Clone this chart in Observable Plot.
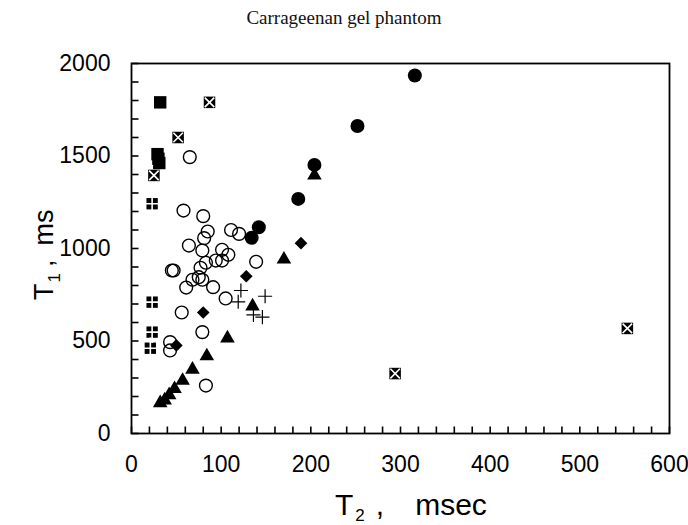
<!DOCTYPE html>
<html><head><meta charset="utf-8">
<script src="https://cdn.jsdelivr.net/npm/d3@7"></script>
<script src="https://cdn.jsdelivr.net/npm/@observablehq/plot@0.6"></script>
<style>
body{margin:0;background:#fff;}
#title{width:688px;height:36px;line-height:36px;text-align:center;font-family:"Liberation Serif","DejaVu Serif",serif;font-size:19px;color:#111;}
</style></head><body>
<div id="title">Carrageenan gel phantom</div>
<div id="chart"></div>
<script>
// [T2 (msec), T1 (ms)] pairs
const openCircles = [[65,1494],[58,1205],[80,1175],[85,1092],[81,1056],[111,1100],[120,1079],[64,1016],[79,989],[101,993],[108,966],[139,928],[45,881],[47,881],[77,896],[83,923],[94,935],[101,935],[75,845],[68,831],[79,831],[61,789],[91,791],[105,730],[56,654],[79,548],[43,494],[43,449],[83,259]];
const filledCircles = [[316,1935],[252,1662],[204,1452],[186,1268],[142,1115],[134,1058]];
const filledSquares = [[32,1790],[29,1510],[30,1485],[31,1462]];
const crossedSquares = [[87,1790],[52,1600],[25,1395],[294,324],[553,568]];
const gridSquares = [[23,1242],[23,710],[23,548],[21,461]];
const triangles = [[32,165],[37,180],[42,208],[48,241],[57,286],[68,346],[84,418],[107,515],[135,688],[170,941],[204,1395]];
const diamonds = [[50,476],[80,654],[128,850],[189,1029]];
const pluses = [[122,773],[119,712],[149,742],[136,641],[146,629]];
const xTicks = [0,100,200,300,400,500,600];
const yTicks = [0,500,1000,1500,2000];
const xMinor = d3.range(0,601,20);
const yMinor = d3.range(0,2001,100);

const obj = a => a.map(([t2,t1]) => ({t2,t1}));
const P = {x:"t2", y:"t1"};

// inward tick shapes as custom symbols
const tickUp = {draw(ctx){ ctx.moveTo(0,0); ctx.lineTo(0,-7); }};
const tickRight = {draw(ctx){ ctx.moveTo(0,0); ctx.lineTo(7,0); }};

const plot = Plot.plot({
  width:688, height:489,
  marginLeft:131, marginRight:19, marginTop:27, marginBottom:92,
  style:{fontFamily:"'Liberation Sans', Arial, sans-serif", fontSize:"23px", color:"#000", background:"#fff", overflow:"visible"},
  x:{domain:[0,600]},
  y:{domain:[0,2000]},
  marks:[
    Plot.frame({stroke:"#000", fill:"none", strokeWidth:1.8}),
    Plot.dot(xMinor.map(v => ({t2:v, t1:0})), {...P, symbol:tickUp, r:4, fill:"none", stroke:"#000", strokeWidth:1.6}),
    Plot.dot(yMinor.map(v => ({t2:0, t1:v})), {...P, symbol:tickRight, r:4, fill:"none", stroke:"#000", strokeWidth:1.6}),
    Plot.axisX(xTicks, {tickSize:0, tickPadding:22, tickFormat:d=>String(d), label:null}),
    Plot.axisY(yTicks, {tickSize:0, tickPadding:21, tickFormat:d=>String(d), label:null}),
    Plot.dot(obj(openCircles), {...P, r:6.4, stroke:"#000", fill:"none", strokeWidth:1.4}),
    Plot.dot(obj(filledCircles), {...P, r:7, fill:"#000", stroke:"none"}),
    Plot.dot(obj(filledSquares), {...P, symbol:"square", r:7, fill:"#000", stroke:"none"}),
    Plot.dot(obj(crossedSquares), {...P, symbol:"square", r:6.5, fill:"#000", stroke:"none"}),
    Plot.dot(obj(crossedSquares), {...P, symbol:"times", r:4.4, fill:"none", stroke:"#fff", strokeWidth:1.6}),
    Plot.dot(obj(gridSquares), {...P, symbol:"square", r:6.4, fill:"#000", stroke:"none"}),
    Plot.dot(obj(gridSquares), {...P, symbol:"plus", r:7, fill:"none", stroke:"#fff", strokeWidth:1.6}),
    Plot.dot(obj(triangles), {...P, symbol:"triangle", r:5.4, fill:"#000", stroke:"none"}),
    Plot.dot(obj(diamonds), {...P, symbol:"diamond2", r:5.7, fill:"#000", stroke:"none"}),
    Plot.dot(obj(pluses), {...P, symbol:"plus", r:4.6, fill:"none", stroke:"#000", strokeWidth:1.2})
  ]
});

const svg = d3.select(plot);
const xl = svg.append("text")
  .attr("x", 335).attr("y", 479).attr("text-anchor", "start")
  .attr("font-family", "'Liberation Sans', Arial, sans-serif")
  .attr("font-size", 30).attr("fill", "#000");
xl.append("tspan").text("T");
xl.append("tspan").attr("font-size", 17).attr("dx", 2).attr("dy", 6).text("2");
xl.append("tspan").attr("dx", 11).attr("dy", -6).text(",");
xl.append("tspan").attr("dx", 31).text("msec");

const yl = svg.append("text")
  .attr("transform", "translate(53,264) rotate(-90)").attr("text-anchor", "start")
  .attr("font-family", "'Liberation Sans', Arial, sans-serif")
  .attr("font-size", 27).attr("fill", "#000");
yl.append("tspan").text("T");
yl.append("tspan").attr("font-size", 17).attr("dx", 1).attr("dy", 7).text("1");
yl.append("tspan").attr("dx", 6).attr("dy", -7).text(",");
yl.append("tspan").attr("dx", 14).text("ms");

document.getElementById("chart").appendChild(plot);
</script>
</body></html>
